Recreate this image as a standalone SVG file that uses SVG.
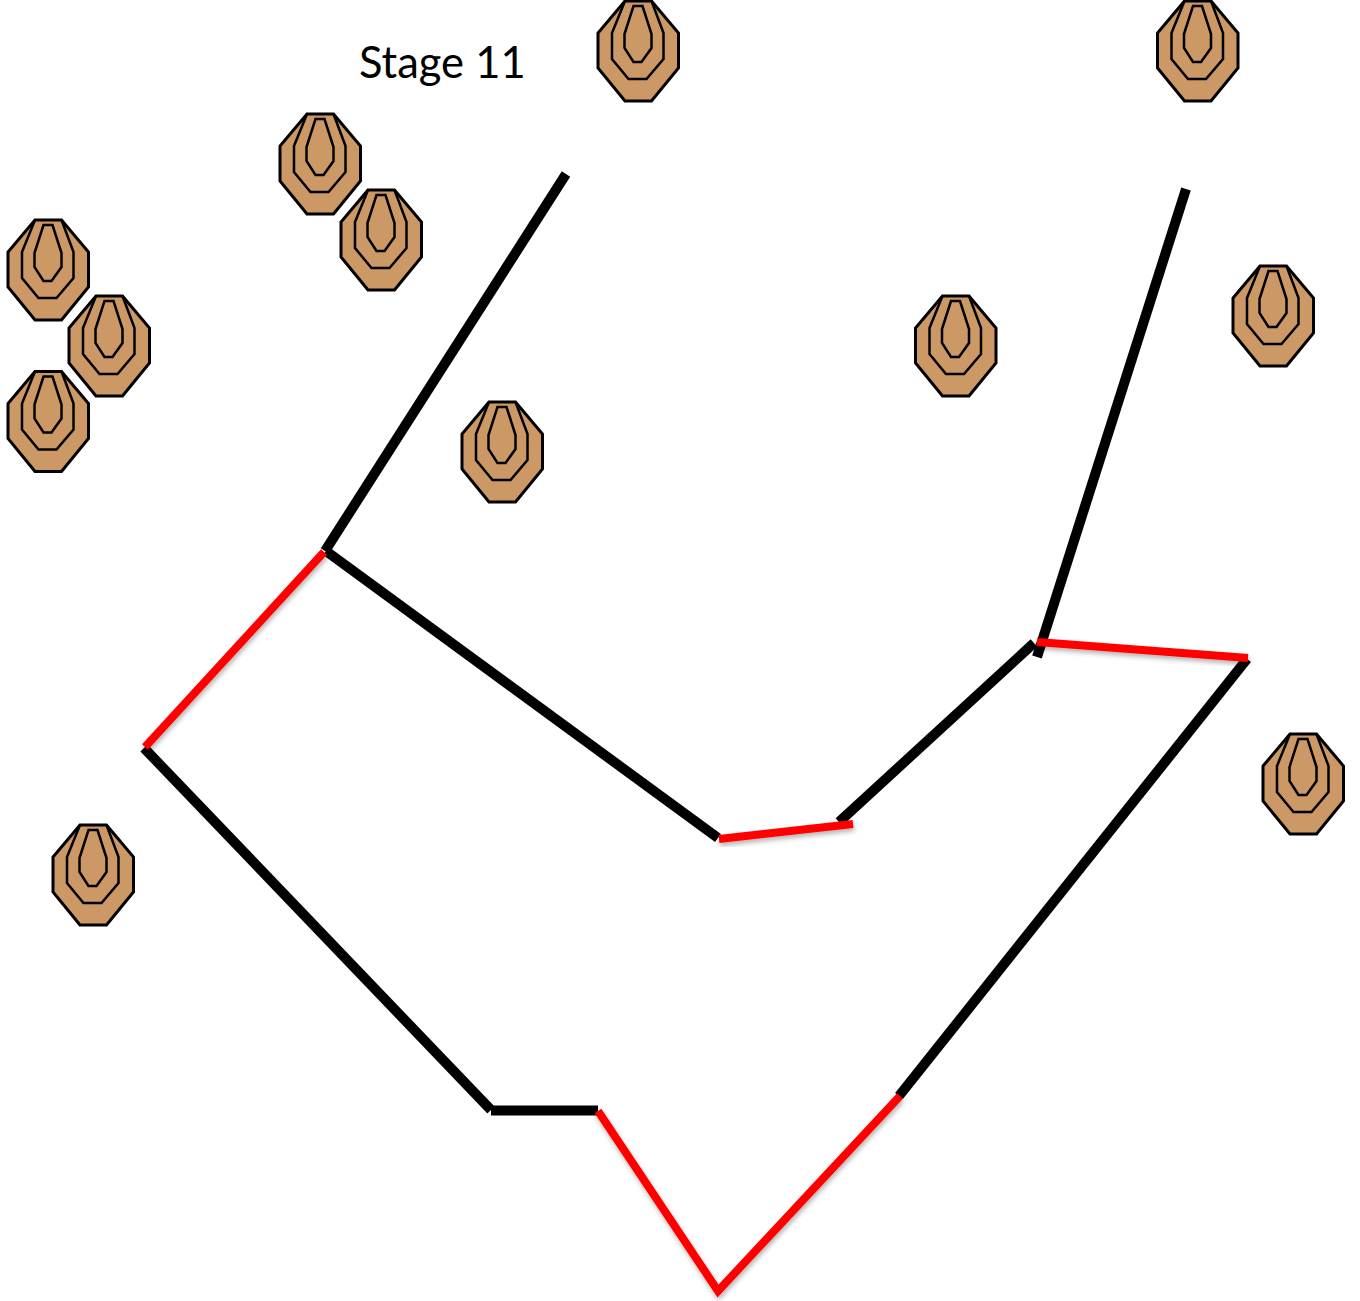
<svg xmlns="http://www.w3.org/2000/svg" width="1360" height="1301" viewBox="0 0 1360 1301">
<style>
.t{fill:#cc9966;stroke:#000;stroke-width:3;stroke-linejoin:miter}
.i{fill:none;stroke:#000;stroke-width:2.5}
.k{stroke:#000;stroke-width:10;fill:none}
.r{stroke:#f00;stroke-width:8;fill:none}
text{font-family:Lato,"Open Sans",sans-serif;font-size:43.500px;fill:#000}
</style>
<defs>
<filter id="s" x="-10%" y="-50%" width="120%" height="200%"><feDropShadow dx="1" dy="3" stdDeviation="2.500" flood-color="#000" flood-opacity=".3"/></filter>
<g id="tg">
<path class="t" d="M-13.500 1H13L40 33V68L13 101H-13.500L-40.500 68V33Z"/>
<path class="i" d="M-13.500 1L-26.500 33V59L-10 79H8L25 59V33L13 1"/>
<path class="i" d="M-5 6H4L13 34V48L3 62H-5L-14 48V34Z"/>
</g>
</defs>
<g id="label"><text x="359" y="78">Stage 11</text></g>
<g id="target-1"><use href="#tg" x="638.500" y="0"/></g>
<g id="target-2"><use href="#tg" x="1198" y="0"/></g>
<g id="target-3"><use href="#tg" x="320.500" y="113"/></g>
<g id="target-4"><use href="#tg" x="381.500" y="189"/></g>
<g id="target-5"><use href="#tg" x="48.500" y="219"/></g>
<g id="target-6"><use href="#tg" x="109.500" y="295"/></g>
<g id="target-7"><use href="#tg" x="48.500" y="370.500"/></g>
<g id="target-8"><use href="#tg" x="502.500" y="401"/></g>
<g id="target-9"><use href="#tg" x="956" y="295"/></g>
<g id="target-10"><use href="#tg" x="1273.500" y="265"/></g>
<g id="target-11"><use href="#tg" x="1303.500" y="733"/></g>
<g id="target-12"><use href="#tg" x="93.500" y="824"/></g>
<g id="connectors">
<path class="k" d="M566 174L325 551"/>
<path class="k" d="M1186 189L1037 657"/>
<path class="k" d="M326 551L718 838"/>
<path class="k" d="M839 822L1034 643"/>
<path class="k" d="M144 748L491 1110"/>
<path class="k" d="M491 1110.500H598"/>
<path class="k" d="M1247 659L899 1096"/>
<path class="r" filter="url(#s)" d="M324 552L145 747"/>
<path class="r" filter="url(#s)" d="M719 839L853 824"/>
<path class="r" filter="url(#s)" d="M1037 642L1248 658"/>
<path class="r" filter="url(#s)" d="M598 1111L718 1291L900 1096"/>
</g>
</svg>
